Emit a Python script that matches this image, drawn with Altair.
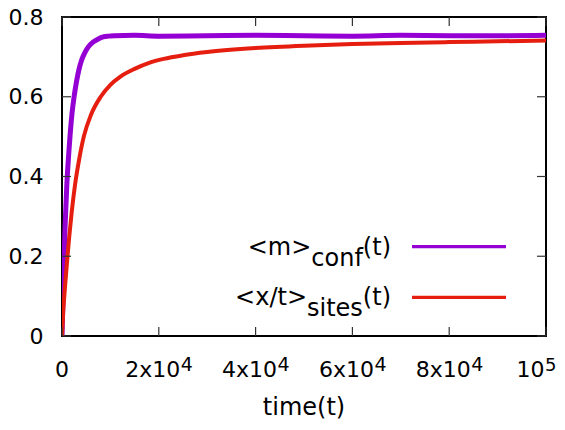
import altair as alt
import pandas as pd

# ---------------- data ----------------
series_names = ["<m>conf(t)", "<x/t>sites(t)"]
series_colors = ["#9400D3", "#E51E10"]

m_t = [0, 300, 620, 1000, 1440, 2000, 2500, 3030, 3500, 4060, 4700, 5440, 6400, 7500,
       8500, 9570, 11000, 15000, 20000, 30000, 40000, 50000, 60000, 70000, 80000, 90000, 100000]
m_v = [0.0, 0.14, 0.27, 0.38, 0.465, 0.55, 0.60, 0.64, 0.668, 0.692, 0.71, 0.725, 0.737, 0.745,
       0.750, 0.752, 0.753, 0.754, 0.752, 0.753, 0.754, 0.753, 0.752, 0.754, 0.753, 0.753, 0.754]

x_t = [0, 250, 600, 1000, 1500, 2000, 2700, 3500, 4500, 6000, 8000, 10000, 12000, 15000,
       18000, 21000, 25000, 30000, 40000, 50000, 60000, 70000, 80000, 90000, 100000]
x_v = [0.0, 0.06, 0.12, 0.18, 0.25, 0.31, 0.38, 0.44, 0.50, 0.555, 0.600, 0.630, 0.650, 0.670,
       0.685, 0.695, 0.704, 0.712, 0.722, 0.728, 0.732, 0.735, 0.737, 0.739, 0.741]

x_ticks = [0, 20000, 40000, 60000, 80000, 100000]
x_tick_main = ["0", "2x10", "4x10", "6x10", "8x10", "10"]
x_tick_sup = ["", "4", "4", "4", "4", "5"]
y_ticks = [0, 0.2, 0.4, 0.6, 0.8]

leg_main = ["<m>", "<x/t>"]
leg_sub = ["conf", "sites"]
leg_tail = ["(t)", "(t)"]
x_title = "time(t)"

# ---------------- layout / style ----------------
W, H = 484, 319
FONT = "DejaVu Sans"
TICK = "#333333"

xs = alt.Scale(domain=[0, 100000], nice=False, zero=False)
ys = alt.Scale(domain=[0, 0.8], nice=False, zero=False)

y_axis = alt.Axis(values=y_ticks, format=".1~f", ticks=False, tickSize=0, domain=False,
                  grid=False, labelFont=FONT, labelFontSize=22, labelColor="black",
                  labelPadding=19, title=None)

df_m = pd.DataFrame({"t": m_t, "v": m_v})
df_x = pd.DataFrame({"t": x_t, "v": x_v})

line_m = alt.Chart(df_m).mark_line(clip=True, interpolate="monotone",
                                   color=series_colors[0], strokeWidth=5).encode(
    x=alt.X("t:Q", scale=xs, axis=None),
    y=alt.Y("v:Q", scale=ys, axis=y_axis),
)
line_x = alt.Chart(df_x).mark_line(clip=True, interpolate="monotone",
                                   color=series_colors[1], strokeWidth=4).encode(
    x=alt.X("t:Q", scale=xs, axis=None),
    y=alt.Y("v:Q", scale=ys, axis=y_axis),
)

# inward ticks on all four sides
ydf = pd.DataFrame({"v": y_ticks})
xdf = pd.DataFrame({"t": x_ticks, "main": x_tick_main, "sup": x_tick_sup})

ytick_l = alt.Chart(ydf).mark_rule(color=TICK, strokeWidth=1.2).encode(
    y=alt.Y("v:Q", scale=ys, axis=y_axis), x=alt.value(0), x2=alt.value(9))
ytick_r = alt.Chart(ydf).mark_rule(color=TICK, strokeWidth=1.2).encode(
    y=alt.Y("v:Q", scale=ys, axis=y_axis), x=alt.value(W - 9), x2=alt.value(W))
xtick_b = alt.Chart(xdf).mark_rule(color=TICK, strokeWidth=1.2).encode(
    x=alt.X("t:Q", scale=xs, axis=None), y=alt.value(H), y2=alt.value(H - 9))
xtick_t = alt.Chart(xdf).mark_rule(color=TICK, strokeWidth=1.2).encode(
    x=alt.X("t:Q", scale=xs, axis=None), y=alt.value(0), y2=alt.value(9))

# x tick labels with superscripts
LBL = 22
SUP = 19
base_y = 360
sup_y = 354

lab0 = alt.Chart(xdf).transform_filter(alt.datum.t == 0).mark_text(
    font=FONT, fontSize=LBL, align="center", baseline="alphabetic", color="black").encode(
    x=alt.X("t:Q", scale=xs, axis=None), y=alt.value(base_y), text="main:N")
lab_mid_main = alt.Chart(xdf).transform_filter((alt.datum.t > 0) & (alt.datum.t < 100000)).mark_text(
    font=FONT, fontSize=LBL, align="right", baseline="alphabetic", dx=21.5, color="black").encode(
    x=alt.X("t:Q", scale=xs, axis=None), y=alt.value(base_y), text="main:N")
lab_mid_sup = alt.Chart(xdf).transform_filter((alt.datum.t > 0) & (alt.datum.t < 100000)).mark_text(
    font=FONT, fontSize=SUP, align="left", baseline="alphabetic", dx=22, color="black").encode(
    x=alt.X("t:Q", scale=xs, axis=None), y=alt.value(sup_y), text="sup:N")
lab_end_main = alt.Chart(xdf).transform_filter(alt.datum.t == 100000).mark_text(
    font=FONT, fontSize=LBL, align="right", baseline="alphabetic", dx=-1.5, color="black").encode(
    x=alt.X("t:Q", scale=xs, axis=None), y=alt.value(base_y), text="main:N")
lab_end_sup = alt.Chart(xdf).transform_filter(alt.datum.t == 100000).mark_text(
    font=FONT, fontSize=18, align="left", baseline="alphabetic", dx=-1, color="black").encode(
    x=alt.X("t:Q", scale=xs, axis=None), y=alt.value(sup_y), text="sup:N")

title = alt.Chart(pd.DataFrame({"s": [x_title]})).mark_text(
    font=FONT, fontSize=24, align="center", baseline="alphabetic", color="black").encode(
    text="s:N", x=alt.value(W / 2), y=alt.value(398))

# legend (key) inside, lower right
LF = 24
leg_layers = []
tail_right = 329
row_base = [238, 288]
row_line = [229.7, 280.3]
adv = {"(t)": 1.172 * LF, "conf": 2.148 * LF, "sites": 2.327 * LF}
for i in range(2):
    one = pd.DataFrame({"a": [leg_main[i]], "b": [leg_sub[i]], "c": [leg_tail[i]]})
    sub_right = tail_right - adv[leg_tail[i]]
    main_right = sub_right - adv[leg_sub[i]]
    leg_layers.append(alt.Chart(one).mark_text(
        font=FONT, fontSize=LF, align="right", baseline="alphabetic", color="black").encode(
        text="c:N", x=alt.value(tail_right), y=alt.value(row_base[i])))
    leg_layers.append(alt.Chart(one).mark_text(
        font=FONT, fontSize=LF, align="right", baseline="alphabetic", color="black").encode(
        text="b:N", x=alt.value(sub_right), y=alt.value(row_base[i] + 10.5)))
    leg_layers.append(alt.Chart(one).mark_text(
        font=FONT, fontSize=LF, align="right", baseline="alphabetic", color="black").encode(
        text="a:N", x=alt.value(main_right), y=alt.value(row_base[i])))
    leg_layers.append(alt.Chart(one).mark_rule(color=series_colors[i], strokeWidth=3.3).encode(
        x=alt.value(350), x2=alt.value(444), y=alt.value(row_line[i])))

chart = alt.layer(
    line_m, line_x, ytick_l, ytick_r, xtick_b, xtick_t,
    lab0, lab_mid_main, lab_mid_sup, lab_end_main, lab_end_sup, title,
    *leg_layers,
).properties(
    width=W, height=H,
    autosize=alt.AutoSizeParams(type="none"),
    padding={"left": 54, "top": 9, "right": 11, "bottom": 86},
    background="white",
).configure_view(stroke="black", strokeWidth=2)

chart.save("out.html", embed_options={"renderer": "svg", "actions": False})
